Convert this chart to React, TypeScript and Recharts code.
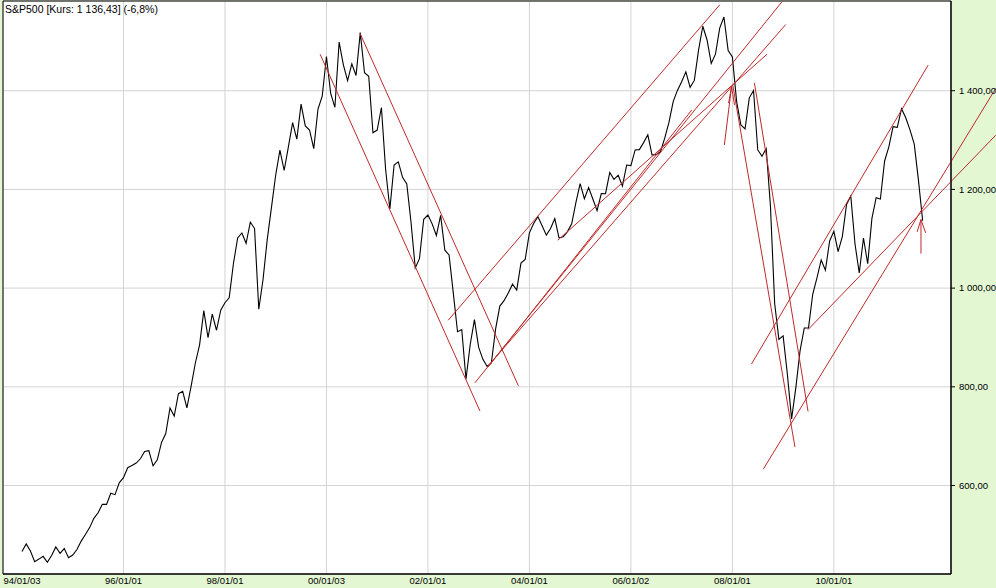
import React from 'react'
import {
  LineChart,
  Line,
  XAxis,
  YAxis,
  CartesianGrid,
  ReferenceLine,
  ReferenceArea,
} from 'recharts'

// monthly closes, Dec 1993 .. Aug 2011, then the live quote in Sep 2011
const closes = [
  466.45,
  481.61, 467.14, 445.77, 450.91, 456.5, 444.27, 458.26, 475.49, 462.69, 472.35, 453.69, 459.27,
  470.42, 487.39, 500.71, 514.71, 533.4, 544.75, 562.06, 561.88, 584.41, 581.5, 605.37, 615.93,
  636.02, 640.43, 645.5, 654.17, 669.12, 670.63, 639.95, 651.99, 687.31, 705.27, 757.02, 740.74,
  786.16, 790.82, 757.12, 801.34, 848.28, 885.14, 954.29, 899.47, 947.28, 914.62, 955.4, 970.43,
  980.28, 1049.34, 1101.75, 1111.75, 1090.82, 1133.84, 1120.67, 957.28, 1017.01, 1098.67, 1163.63, 1229.23,
  1279.64, 1238.33, 1286.37, 1335.18, 1301.84, 1372.71, 1328.72, 1320.41, 1282.71, 1362.93, 1388.91, 1469.25,
  1394.46, 1366.42, 1498.58, 1452.43, 1420.6, 1454.6, 1430.83, 1517.68, 1436.51, 1429.4, 1314.95, 1320.28,
  1366.01, 1239.94, 1160.33, 1249.46, 1255.82, 1224.38, 1211.23, 1133.58, 1040.94, 1059.78, 1139.45, 1148.08,
  1130.2, 1106.73, 1147.39, 1076.92, 1067.14, 989.82, 911.62, 916.07, 815.28, 885.76, 936.31, 879.82,
  855.7, 841.15, 848.18, 916.92, 963.59, 974.5, 990.31, 1008.01, 995.97, 1050.71, 1058.2, 1111.92,
  1131.13, 1144.94, 1126.21, 1107.3, 1120.68, 1140.84, 1101.72, 1104.24, 1114.58, 1130.2, 1173.82, 1211.92,
  1181.27, 1203.6, 1180.59, 1156.85, 1191.5, 1191.33, 1234.18, 1220.33, 1228.81, 1207.01, 1249.48, 1248.29,
  1280.08, 1280.66, 1294.83, 1310.61, 1270.09, 1270.2, 1276.66, 1303.82, 1335.85, 1377.94, 1400.63, 1418.3,
  1438.24, 1406.82, 1420.86, 1482.37, 1530.62, 1503.35, 1455.27, 1473.99, 1526.75, 1549.38, 1481.14, 1468.36,
  1378.55, 1330.63, 1322.7, 1385.59, 1400.38, 1280.0, 1267.38, 1282.83, 1166.36, 968.75, 896.24, 903.25,
  825.88, 735.09, 797.87, 872.81, 919.14, 919.32, 987.48, 1020.62, 1057.08, 1036.19, 1095.63, 1115.1,
  1073.87, 1104.49, 1169.43, 1186.69, 1089.41, 1030.71, 1101.6, 1049.33, 1141.2, 1183.26, 1180.55, 1257.64,
  1286.12, 1327.22, 1325.83, 1363.61, 1345.2, 1320.64, 1292.28, 1218.89, 1136.43,
]

const tickIdx = [0, 24, 48, 72, 96, 120, 144, 168, 192]
const tickLabels = ['94/01/03', '96/01/01', '98/01/01', '00/01/03', '02/01/01', '04/01/01', '06/01/02', '08/01/01', '10/01/01']
const priceTicks = [600, 800, 1000, 1200, 1400]

// hand drawn trend lines: [month index, price] -> [month index, price]
const trendLines = [
  [70.5, 1474, 108.3, 751],
  [79.9, 1517, 117.4, 802],
  [100.8, 935, 165.0, 1574],
  [126.7, 1097, 176.2, 1474],
  [107.1, 808, 179.7, 1580],
  [110.2, 842, 180.6, 1534],
  [110.2, 840, 158.4, 1361],
  [168.1, 1411, 182.8, 678],
  [173.2, 1416, 185.9, 750],
  [172.5, 846, 214.3, 1452],
  [175.3, 633, 230.3, 1405],
  [185.9, 916, 230.3, 1310],
]
// arrows: shaft, left head, right head
const arrows = [
  [166.1, 1290, 167.8, 1408, 167.1, 1375, 168.5, 1371],
  [212.6, 1070, 212.6, 1139, 211.7, 1114, 213.7, 1112],
]

const data = closes.map((v, i) => ({ i, v }))
const xDomain = [-4.49, 219.7]
const yDomain = [420.7, 1581.8]
const red = '#BE2A2A'
const font = '"Liberation Sans", Arial, sans-serif'

const fmtPrice = (v: number) => {
  const [a, b] = v.toFixed(2).split('.')
  return a.replace(/\B(?=(\d{3})+(?!\d))/g, ' ') + ',' + b
}

// plain text so the spaces in "1 400,00" do not wrap
const PriceTick = (props: any) => {
  const { x, y, payload } = props
  return (
    <text x={x + 2} y={y} dy="0.35em" fill="#000" fontSize={9.5} fontFamily={font} textAnchor="start">
      {fmtPrice(payload.value)}
    </text>
  )
}

export default function App() {
  return (
    <div style={{ position: 'fixed', left: 0, top: 0, width: 996, height: 588, background: '#E3F7D3', fontFamily: font }}>
      <LineChart width={996} height={588} data={data} margin={{ top: 1, right: 0, left: 3, bottom: 0 }}>
        <CartesianGrid fill="#FFFFFF" stroke="#D4D4D4" />
        <XAxis
          dataKey="i"
          type="number"
          domain={xDomain}
          allowDataOverflow
          ticks={tickIdx}
          tickFormatter={(v: number) => tickLabels[tickIdx.indexOf(v)] ?? ''}
          height={14}
          tickLine={false}
          tickSize={2}
          tickMargin={1}
          axisLine={{ stroke: '#000' }}
          tick={{ fill: '#000', fontSize: 9.5, fontFamily: font }}
        />
        <YAxis
          orientation="right"
          type="number"
          domain={yDomain}
          allowDataOverflow
          ticks={priceTicks}
          width={45}
          tickSize={4}
          tickLine={{ stroke: '#000' }}
          axisLine={{ stroke: '#000' }}
          tick={<PriceTick />}
        />
        <ReferenceArea
          x1={xDomain[0]}
          x2={xDomain[1]}
          y1={yDomain[0]}
          y2={yDomain[1]}
          fill="none"
          stroke="#000"
          fillOpacity={0}
          ifOverflow="visible"
        />
        <Line
          type="linear"
          dataKey="v"
          stroke="#000"
          strokeWidth={1.1}
          dot={false}
          isAnimationActive={false}
        />
        {trendLines.map((t, k) => (
          <ReferenceLine
            key={'t' + k}
            segment={[{ x: t[0], y: t[1] }, { x: t[2], y: t[3] }]}
            stroke={red}
            strokeWidth={1}
            ifOverflow="visible"
          />
        ))}
        {arrows.map((a, k) => (
          <React.Fragment key={'a' + k}>
            <ReferenceLine segment={[{ x: a[0], y: a[1] }, { x: a[2], y: a[3] }]} stroke={red} ifOverflow="visible" />
            <ReferenceLine segment={[{ x: a[4], y: a[5] }, { x: a[2], y: a[3] }]} stroke={red} ifOverflow="visible" />
            <ReferenceLine segment={[{ x: a[6], y: a[7] }, { x: a[2], y: a[3] }]} stroke={red} ifOverflow="visible" />
          </React.Fragment>
        ))}
      </LineChart>
      <div style={{ position: 'absolute', left: 5, top: 3, fontSize: 10.5, color: '#000', lineHeight: '12px' }}>
        S&amp;P500 [Kurs: 1 136,43] (-6,8%)
      </div>
    </div>
  )
}
